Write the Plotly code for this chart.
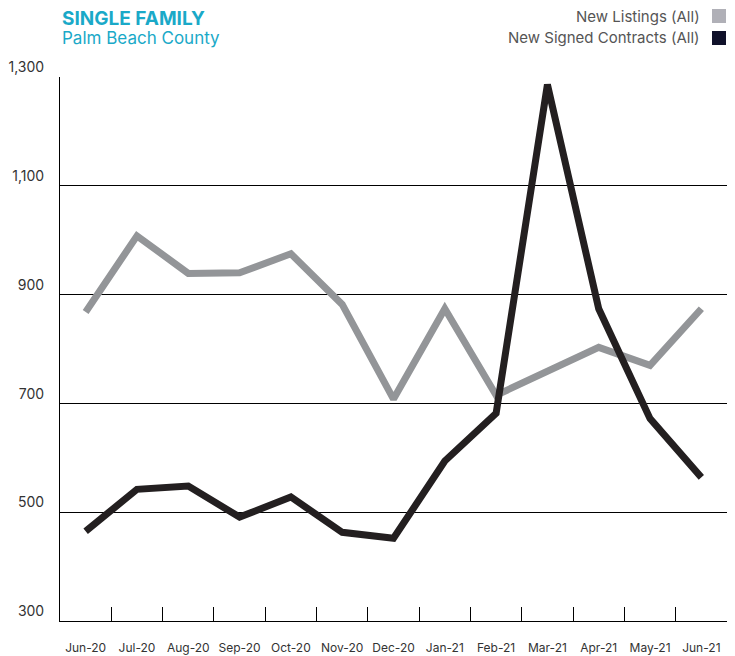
import plotly.graph_objects as go

months = ["Jun-20", "Jul-20", "Aug-20", "Sep-20", "Oct-20", "Nov-20", "Dec-20",
          "Jan-21", "Feb-21", "Mar-21", "Apr-21", "May-21", "Jun-21"]
new_listings = [868, 1008, 939, 940, 975, 882, 708, 874, 715, 758, 803, 770, 874]
signed_contracts = [465, 542, 548, 491, 528, 463, 452, 594, 682, 1286, 874, 672, 564]
y_ticks = [300, 500, 700, 900, 1100, 1300]

gray_line = "#939598"
black_line = "#231f20"
teal = "#1aa9c8"
font_family = "Inter, Lato, sans-serif"

fig = go.Figure()
fig.add_trace(go.Scatter(x=months, y=new_listings, mode="lines",
                         line=dict(color=gray_line, width=7), name="New Listings (All)"))
fig.add_trace(go.Scatter(x=months, y=signed_contracts, mode="lines",
                         line=dict(color=black_line, width=7), name="New Signed Contracts (All)"))

# the page body adds an 8px offset, so the figure is sized to fill the rest
fig.update_layout(
    width=727, height=648,
    margin=dict(l=52, r=8, t=69, b=35, autoexpand=False),
    paper_bgcolor="white", plot_bgcolor="white",
    showlegend=False,
    font=dict(family=font_family, color="#333333", size=13),
    hovermode=False,
)
fig.update_xaxes(
    type="category", showgrid=False, showline=True, linecolor="black", linewidth=1,
    ticks="inside", tickson="boundaries", ticklen=14, tickcolor="black", tickwidth=1,
    ticklabelstandoff=16, tickangle=0, automargin=False,
    tickfont=dict(size=12, color="#333333"),
    range=[-0.5, 12.5],
)
fig.update_yaxes(
    range=[300, 1300], tickvals=y_ticks, ticktext=[f"{v:,}" for v in y_ticks],
    showgrid=True, gridcolor="black", gridwidth=1, automargin=False,
    showline=True, linecolor="black", linewidth=1, zeroline=False,
    ticks="", ticklabelposition="outside top", ticklabelstandoff=12,
    tickfont=dict(size=14, color="#333333"),
)

W = 667.0  # plot width px
H = 544.0  # plot height px

# Title
fig.add_annotation(text="<b>SINGLE FAMILY</b>", xref="paper", yref="paper",
                   x=0.0, y=1.0, xanchor="left", yanchor="middle", yshift=77 - 18,
                   showarrow=False, font=dict(size=19, color=teal, family=font_family))
fig.add_annotation(text="Palm Beach County", xref="paper", yref="paper",
                   x=0.0, y=1.0, xanchor="left", yanchor="middle", yshift=77 - 38,
                   showarrow=False, font=dict(size=17, color=teal, family=font_family))

# Legend (text right, square marker on right)
legend_items = [("New Listings (All)", "#b0b0b7"), ("New Signed Contracts (All)", "#10112a")]
for i, (label, col) in enumerate(legend_items):
    ycenter = 16 + i * 22  # screen pixels from top
    fig.add_annotation(text=label, xref="paper", yref="paper",
                       x=(702 - 60) / W, y=1 + (77 - ycenter) / H,
                       xanchor="right", yanchor="middle", showarrow=False,
                       font=dict(size=15, color="#555555", family=font_family))
    fig.add_shape(type="rect", xref="paper", yref="paper",
                  x0=(712 - 60) / W, x1=(726 - 60) / W,
                  y0=1 + (77 - ycenter - 7) / H, y1=1 + (77 - ycenter + 7) / H,
                  fillcolor=col, line=dict(width=0))

fig.write_html("out.html", config={"displayModeBar": False})
